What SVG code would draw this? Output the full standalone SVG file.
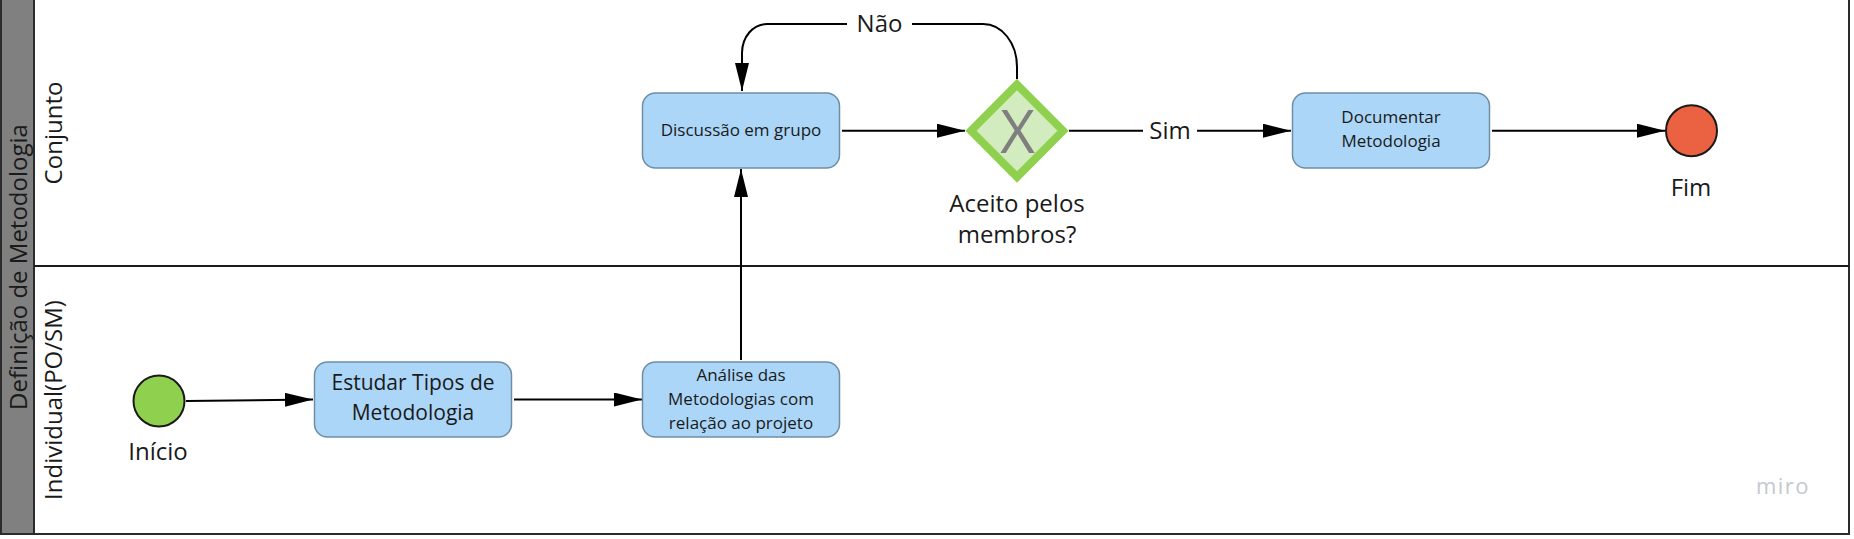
<svg xmlns="http://www.w3.org/2000/svg" width="1854" height="539" viewBox="0 0 1854 539">
<style>
  .txt { font-family: "Open Sans", "Noto Sans", "DejaVu Sans", sans-serif; fill: #1a1a1a; }
  .task { fill: #abd6f8; stroke: #6f8ea5; stroke-width: 1.5; }
  .conn { fill: none; stroke: #000; stroke-width: 2; }
  .lbl { font-size: 24px; text-anchor: middle; }
  .tt { font-size: 17px; text-anchor: middle; }
  .lane { font-size: 24px; text-anchor: middle; }
</style>
<defs>
  <marker id="arr" markerUnits="userSpaceOnUse" markerWidth="28" markerHeight="14" refX="28" refY="7" orient="auto">
    <path d="M0,0 L28,7 L0,14 Z" fill="#000"/>
  </marker>
</defs>
<rect x="0" y="0" width="1854" height="539" fill="#fff"/>

<g id="pool">
  <rect x="1" y="-3" width="1848" height="537" fill="#fff" stroke="#2b2b2b" stroke-width="2"/>
  <rect x="2" y="-3" width="32" height="536" fill="#808080"/>
  <line x1="34" y1="-3" x2="34" y2="534" stroke="#2b2b2b" stroke-width="2"/>
  <text class="txt lane" fill="#2b2b2b" transform="translate(27,267) rotate(-90)">Definição de Metodologia</text>
</g>
<g id="lane-conjunto">
  <text class="txt lane" transform="translate(62,133) rotate(-90)">Conjunto</text>
</g>
<g id="lane-individual">
  <line x1="34" y1="266" x2="1849" y2="266" stroke="#1a1a1a" stroke-width="2"/>
  <text class="txt lane" transform="translate(62,400) rotate(-90)">Individual(PO/SM)</text>
</g>

<g id="connectors">
  <path class="conn" d="M186,401 L313,399.5" marker-end="url(#arr)"/>
  <path class="conn" d="M514,399.5 L642,399.5" marker-end="url(#arr)"/>
  <path class="conn" d="M741,360 L741,169" marker-end="url(#arr)"/>
  <path class="conn" d="M842,130.7 L965,130.7" marker-end="url(#arr)"/>
  <path class="conn" d="M1069,130.7 L1291,130.7" marker-end="url(#arr)"/>
  <path class="conn" d="M1492,130.7 L1665,130.7" marker-end="url(#arr)"/>
  <path class="conn" d="M1017,79 L1017,67 C1017,43 1002,24 983,24 L767,24 C753,24 742,37 742,53 L742,91" marker-end="url(#arr)"/>
  <rect x="847" y="10" width="65" height="30" fill="#fff"/>
  <text class="txt lbl" x="879.5" y="32">Não</text>
  <rect x="1143" y="117" width="54" height="30" fill="#fff"/>
  <text class="txt lbl" x="1170" y="139">Sim</text>
</g>

<g id="inicio">
  <circle cx="159" cy="401" r="25.5" fill="#8fd14f" stroke="#1a1a1a" stroke-width="2"/>
  <text class="txt lbl" x="158" y="460">Início</text>
</g>
<g id="estudar">
  <rect class="task" x="314.5" y="362" width="197" height="75" rx="13"/>
  <text class="txt" font-size="21" text-anchor="middle" x="413" y="390">Estudar Tipos de</text>
  <text class="txt" font-size="21" text-anchor="middle" x="413" y="420">Metodologia</text>
</g>
<g id="analise">
  <rect class="task" x="642.5" y="362" width="197" height="75" rx="13"/>
  <text class="txt tt" x="741" y="381">Análise das</text>
  <text class="txt tt" x="741" y="405">Metodologias com</text>
  <text class="txt tt" x="741" y="429">relação ao projeto</text>
</g>
<g id="discussao">
  <rect class="task" x="642.5" y="93" width="197" height="75" rx="13"/>
  <text class="txt tt" x="741" y="136">Discussão em grupo</text>
</g>
<g id="gateway">
  <polygon points="1017,84.5 1063,130.7 1017,177 971,130.7" fill="#d3ecbf" stroke="#8fd14f" stroke-width="8" stroke-linejoin="miter"/>
  <text x="1017.5" y="153" font-family="'Open Sans', 'Noto Sans', sans-serif" font-weight="400" font-size="60" text-anchor="middle" fill="#7f7f7f">X</text>
  <text class="txt lbl" x="1017" y="212">Aceito pelos</text>
  <text class="txt lbl" x="1017" y="243">membros?</text>
</g>
<g id="documentar">
  <rect class="task" x="1292.5" y="93" width="197" height="75" rx="13"/>
  <text class="txt tt" x="1391" y="123">Documentar</text>
  <text class="txt tt" x="1391" y="147">Metodologia</text>
</g>
<g id="fim">
  <circle cx="1691.5" cy="130.7" r="25.5" fill="#eb6243" stroke="#1a1a1a" stroke-width="2"/>
  <text class="txt lbl" x="1691" y="196">Fim</text>
</g>
<text x="1783" y="494" font-family="'Open Sans', 'Noto Sans', sans-serif" font-size="22" text-anchor="middle" fill="#c4c8d2" letter-spacing="1.5">miro</text>
</svg>
